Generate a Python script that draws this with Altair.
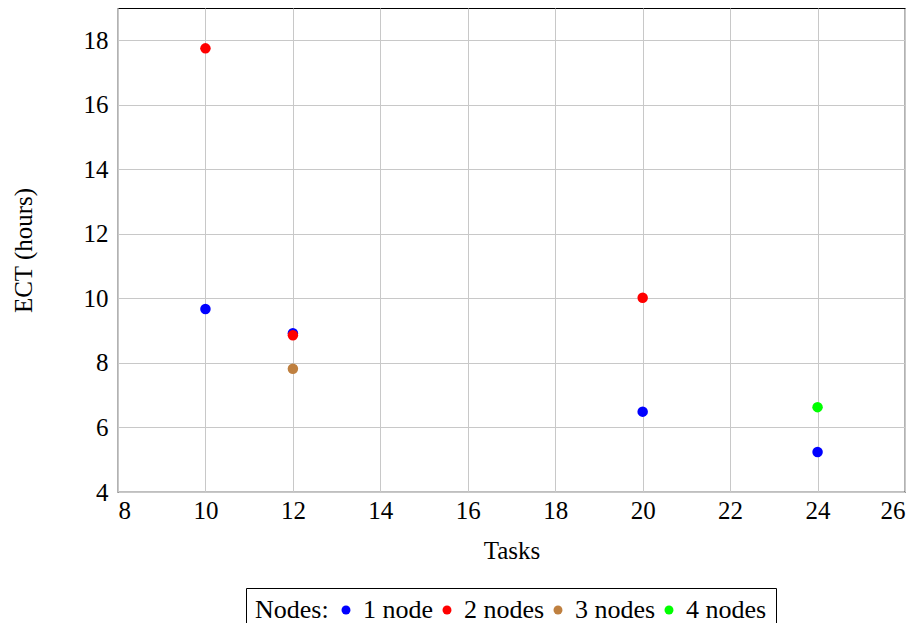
import altair as alt
import pandas as pd

series = ["1 node", "1 node", "1 node", "1 node",
          "2 nodes", "2 nodes", "2 nodes",
          "3 nodes",
          "4 nodes"]
tasks = [10, 12, 20, 24,
         10, 12, 20,
         12,
         24]
ect = [9.67, 8.92, 6.49, 5.24,
       17.75, 8.86, 10.02,
       7.82,
       6.63]

categories = ["1 node", "2 nodes", "3 nodes", "4 nodes"]
colors = ["#0000ff", "#ff0000", "#bf8040", "#00ff00"]
x_ticks = [8, 10, 12, 14, 16, 18, 20, 22, 24, 26]
y_ticks = [4, 6, 8, 10, 12, 14, 16, 18]

df = pd.DataFrame({"Nodes": series, "Tasks": tasks, "ECT": ect})

FONT = "Liberation Serif"

chart = alt.Chart(df).mark_circle(size=110, opacity=1).encode(
    x=alt.X("Tasks:Q", scale=alt.Scale(domain=[8, 26], nice=False, zero=False),
            axis=alt.Axis(values=x_ticks, title="Tasks", titlePadding=15, labelPadding=6)),
    y=alt.Y("ECT:Q", scale=alt.Scale(domain=[4, 19], nice=False, zero=False),
            axis=alt.Axis(values=y_ticks, title="ECT (hours)", titlePadding=47, labelPadding=10)),
    color=alt.Color("Nodes:N", scale=alt.Scale(domain=categories, range=colors),
                    legend=alt.Legend(title="Nodes:", orient="none", direction="horizontal",
                                      legendX=128, legendY=580, titleOrient="left",
                                      columns=4, symbolType="circle", symbolSize=80,
                                      strokeColor="#000000", padding=9,
                                      titlePadding=4, columnPadding=0, labelOffset=4,
                                      symbolStrokeWidth=0)),
).properties(
    width=787, height=484,
    autosize=alt.AutoSizeParams(type="none"),
    padding={"left": 110, "top": 0, "right": 8, "bottom": 131},
).configure_view(
    stroke="#000000", strokeWidth=1.2
).configure_axis(
    grid=True, gridColor="#c8c8c8", gridWidth=1,
    domain=False, ticks=False,
    labelFont=FONT, labelFontSize=25, labelColor="#000000",
    titleFont=FONT, titleFontSize=25, titleColor="#000000", titleFontWeight="normal",
).configure_legend(
    labelFont=FONT, labelFontSize=26, labelColor="#000000",
    titleFont=FONT, titleFontSize=26, titleColor="#000000", titleFontWeight="normal",
)

chart.save("out.html", embed_options={"renderer": "svg", "actions": False})
